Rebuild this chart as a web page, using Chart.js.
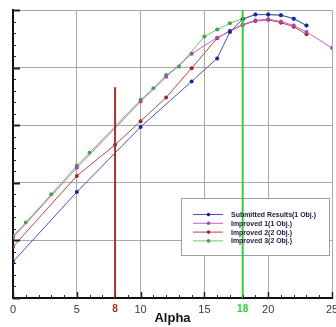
<!DOCTYPE html>
<html>
<head>
<meta charset="utf-8">
<script src="https://cdn.jsdelivr.net/npm/chart.js@4"></script>
<style>
  html, body { margin: 0; padding: 0; background: #ffffff; }
  #wrap { width: 336px; height: 327px; }
</style>
</head>
<body>
<div id="wrap"><canvas id="chart" width="336" height="327"></canvas></div>
<script>
// 數據
const seriesNames = ['Submitted Results(1 Obj.)', 'Improved 1(1 Obj.)', 'Improved 2(2 Obj.)', 'Improved 3(2 Obj.)'];

const alphaSubmitted = [0, 5, 10, 14, 16, 17, 18, 19, 20, 21, 22, 23];
const valueSubmitted = [0.63, 1.84, 2.97, 3.76, 4.16, 4.62, 4.84, 4.92, 4.92, 4.91, 4.85, 4.73];

const alphaImproved1 = [0, 5, 10, 12, 14, 16, 17, 18, 19, 20, 21, 22, 23, 25];
const valueImproved1 = [1.05, 2.26, 3.41, 3.84, 4.24, 4.52, 4.63, 4.75, 4.82, 4.84, 4.80, 4.73, 4.62, 4.34];

const alphaImproved2 = [0, 5, 8, 10, 12, 14, 16, 17, 18, 19, 20, 21, 22, 23];
const valueImproved2 = [0.89, 2.12, 2.66, 3.07, 3.48, 3.99, 4.51, 4.64, 4.74, 4.81, 4.83, 4.78, 4.71, 4.58];

const alphaImproved3 = [0, 1, 3, 5, 6, 10, 11, 12, 13, 15, 16, 17, 18, 19, 20, 21, 22, 23];
const valueImproved3 = [1.08, 1.31, 1.80, 2.30, 2.52, 3.44, 3.64, 3.87, 4.02, 4.54, 4.66, 4.77, 4.85, 4.92, 4.92, 4.91, 4.85, 4.73];

// 兩條垂直標記線
const markAlpha = [8, 18];
const markTop = [3.66, 5];

const xTicks = [0, 5, 8, 10, 15, 18, 20, 25];

const colors = {
    submitted: '#5050b4',
    improved1: '#c860cc',
    improved2: '#ac4848',
    improved3: '#66c866',
    mark8: '#a8302c',
    mark18: '#38cc38',
    grid: '#a8a8a8'
};

const labelFont = '"Liberation Sans", Arial, sans-serif';

function points(xs, ys) {
    return xs.map((x, i) => ({ x: x, y: ys[i] }));
}

function isMark(ctx) {
    return !!(ctx.tick && markAlpha.includes(ctx.tick.value));
}

function curve(label, xs, ys, color, markerColor) {
    return {
        label: label,
        data: points(xs, ys),
        borderColor: color,
        backgroundColor: markerColor,
        pointBorderColor: markerColor,
        pointBackgroundColor: markerColor,
        borderWidth: 1,
        pointRadius: 2,
        pointBorderWidth: 0,
        tension: 0,
        order: 2
    };
}

// 內向刻度
const innerTicks = {
    id: 'innerTicks',
    afterDraw(chart) {
        const ctx = chart.ctx;
        const xs = chart.scales.x;
        const ys = chart.scales.y;
        const a = chart.chartArea;
        ctx.save();
        ctx.strokeStyle = '#222';
        for (let v = 0; v <= 25; v++) {
            const px = Math.round(xs.getPixelForValue(v)) + 0.5;
            const len = v % 5 === 0 ? 6 : 3;
            ctx.lineWidth = v % 5 === 0 ? 1.5 : 1;
            ctx.beginPath();
            ctx.moveTo(px, a.bottom);
            ctx.lineTo(px, a.bottom - len);
            ctx.stroke();
        }
        for (let i = 0; i <= 25; i++) {
            const v = i / 5;
            const py = Math.round(ys.getPixelForValue(v)) + 0.5;
            const len = i % 5 === 0 ? 7 : 3;
            ctx.lineWidth = i % 5 === 0 ? 2 : 1;
            ctx.beginPath();
            ctx.moveTo(a.left, py);
            ctx.lineTo(a.left + len, py);
            ctx.stroke();
        }
        ctx.restore();
    }
};

// 圖例方框 (放在繪圖區內)
const boxLegend = {
    id: 'boxLegend',
    beforeDatasetsDraw(chart) {
        const ctx = chart.ctx;
        ctx.save();
        ctx.fillStyle = '#ffffff';
        ctx.fillRect(181, 198, 149, 57);
        ctx.strokeStyle = '#a0a0a0';
        ctx.lineWidth = 1;
        ctx.strokeRect(181.5, 198.5, 148, 57);
        ctx.restore();
    },
    afterDatasetsDraw(chart) {
        const ctx = chart.ctx;
        ctx.save();
        ctx.font = 'bold 7px ' + labelFont;
        const full = ctx.measureText(seriesNames[0]).width;
        const squeeze = Math.min(1, 85 / full);
        chart.data.datasets.slice(0, 4).forEach((ds, i) => {
            const y = 214.5 + i * 8.8;
            ctx.strokeStyle = ds.borderColor;
            ctx.lineWidth = 1;
            ctx.beginPath();
            ctx.moveTo(193, y);
            ctx.lineTo(223, y);
            ctx.stroke();
            ctx.fillStyle = ds.pointBackgroundColor;
            ctx.beginPath();
            ctx.arc(208.5, y, 1.8, 0, Math.PI * 2);
            ctx.fill();
            ctx.fillStyle = '#1a1a3a';
            ctx.textBaseline = 'middle';
            const w = ctx.measureText(ds.label).width * squeeze;
            ctx.fillText(ds.label, 231, y + 0.5, w);
        });
        ctx.restore();
    }
};

new Chart(document.getElementById('chart'), {
    type: 'line',
    data: {
        datasets: [
            curve(seriesNames[0], alphaSubmitted, valueSubmitted, colors.submitted, '#2020a0'),
            curve(seriesNames[1], alphaImproved1, valueImproved1, colors.improved1, '#b040b8'),
            curve(seriesNames[2], alphaImproved2, valueImproved2, colors.improved2, '#a02828'),
            curve(seriesNames[3], alphaImproved3, valueImproved3, colors.improved3, '#38a838'),
            {
                label: 'alpha 8',
                data: points([markAlpha[0], markAlpha[0]], [0, markTop[0]]),
                borderColor: colors.mark8,
                borderWidth: 2,
                pointRadius: 0,
                order: 1
            },
            {
                label: 'alpha 18',
                data: points([markAlpha[1], markAlpha[1]], [0, markTop[1]]),
                borderColor: colors.mark18,
                borderWidth: 2,
                pointRadius: 0,
                order: 1
            }
        ]
    },
    options: {
        responsive: false,
        devicePixelRatio: 1,
        animation: false,
        layout: { padding: { left: 13, right: 4, top: 10, bottom: 2 } },
        plugins: {
            legend: { display: false },
            tooltip: { enabled: false }
        },
        scales: {
            x: {
                type: 'linear',
                min: 0,
                max: 25,
                afterBuildTicks(scale) {
                    scale.ticks = xTicks.map(v => ({ value: v }));
                },
                afterFit(scale) {
                    // 讓 "25" 貼齊右邊, 軸高度固定
                    scale.paddingRight = 0;
                    scale.height = 27;
                },
                grid: {
                    color: ctx => isMark(ctx) ? 'rgba(0,0,0,0)' : colors.grid,
                    lineWidth: 1,
                    drawTicks: false
                },
                border: { color: '#111', width: 2 },
                ticks: {
                    padding: 6,
                    maxRotation: 0,
                    autoSkip: false,
                    color: ctx => {
                        if (!ctx.tick) return '#3a3a3a';
                        if (ctx.tick.value === markAlpha[0]) return colors.mark8;
                        if (ctx.tick.value === markAlpha[1]) return colors.mark18;
                        return '#3a3a3a';
                    },
                    font: ctx => isMark(ctx)
                        ? { family: labelFont, size: 10, weight: 'bold', lineHeight: 1 }
                        : { family: labelFont, size: 11, lineHeight: 1 }
                },
                title: {
                    display: true,
                    text: 'Alpha',
                    color: '#111',
                    font: { family: labelFont, size: 13, weight: 'bold', lineHeight: 1 },
                    padding: { top: 0, bottom: 0 }
                }
            },
            y: {
                type: 'linear',
                min: 0,
                max: 5,
                ticks: { display: false, stepSize: 1 },
                grid: { color: colors.grid, lineWidth: 1, drawTicks: false },
                border: { color: '#111', width: 2 }
            }
        }
    },
    plugins: [innerTicks, boxLegend]
});
</script>
</body>
</html>
